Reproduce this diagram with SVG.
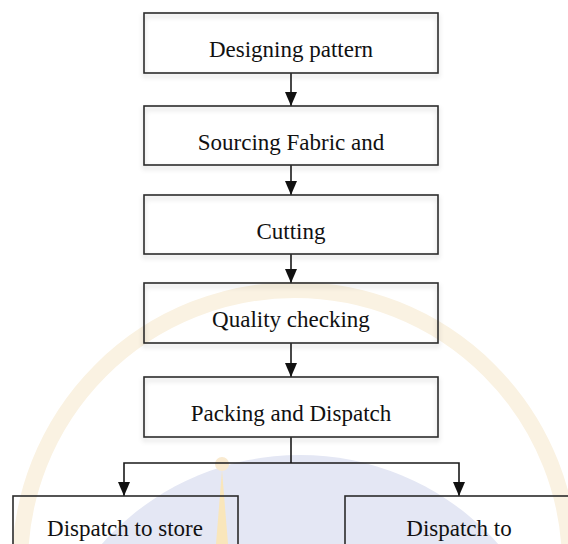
<svg xmlns="http://www.w3.org/2000/svg" width="568" height="544" viewBox="0 0 568 544">
<defs>
<style>
.box{fill:none;stroke:#2b2b2b;stroke-width:1.6;filter:url(#sh)}
.lbl{font-family:"Liberation Serif","Times New Roman",serif;font-size:23px;fill:#111;text-anchor:middle}
.con{fill:none;stroke:#1a1a1a;stroke-width:1.6}
</style>
<filter id="sh" x="-5%" y="-10%" width="110%" height="140%">
<feDropShadow dx="0" dy="3" stdDeviation="2.5" flood-color="#000" flood-opacity="0.2"/>
</filter>
<marker id="ah" markerWidth="14" markerHeight="12" refX="14" refY="6" orient="auto-start-reverse" markerUnits="userSpaceOnUse" viewBox="0 0 14 12">
<path d="M0,0 L14,6 L0,12 Z" fill="#111"/>
</marker>
</defs>
<rect width="568" height="544" fill="#fff"/>
<g id="watermark">
<circle cx="300" cy="720" r="265" fill="#e4e7f4"/>
<circle cx="295" cy="565" r="275" fill="none" stroke="#faf2e2" stroke-width="16"/>
<path d="M222,470 L228,544 L216,544 Z" fill="#f9e6bb"/>
<circle cx="222" cy="464" r="7" fill="#f9ead0"/>
</g>
<g id="connectors">
<line class="con" x1="291" y1="73" x2="291" y2="106" marker-end="url(#ah)"/>
<line class="con" x1="291" y1="165" x2="291" y2="195" marker-end="url(#ah)"/>
<line class="con" x1="291" y1="254" x2="291" y2="283" marker-end="url(#ah)"/>
<line class="con" x1="291" y1="343" x2="291" y2="377" marker-end="url(#ah)"/>
<polyline class="con" points="291,437 291,463"/>
<polyline class="con" points="124,496 124,463 459,463 459,496" marker-start="url(#ah)" marker-end="url(#ah)"/>
</g>
<g id="n1"><rect class="box" x="144" y="13" width="294" height="60"/><text class="lbl" x="291" y="57">Designing pattern</text></g>
<g id="n2"><rect class="box" x="144" y="106" width="294" height="59"/><text class="lbl" x="291" y="150">Sourcing Fabric and</text></g>
<g id="n3"><rect class="box" x="144" y="195" width="294" height="59"/><text class="lbl" x="291" y="239">Cutting</text></g>
<g id="n4"><rect class="box" x="144" y="283" width="294" height="60"/><text class="lbl" x="291" y="327">Quality checking</text></g>
<g id="n5"><rect class="box" x="144" y="377" width="294" height="60"/><text class="lbl" x="291" y="421">Packing and Dispatch</text></g>
<g id="n6"><rect x="13" y="496" width="225" height="70" fill="none" stroke="#2b2b2b" stroke-width="1.6"/><text class="lbl" x="125" y="536">Dispatch to store</text></g>
<g id="n7"><rect x="345" y="496" width="245" height="70" fill="none" stroke="#2b2b2b" stroke-width="1.6"/><text class="lbl" x="459" y="536">Dispatch to</text></g>
</svg>
